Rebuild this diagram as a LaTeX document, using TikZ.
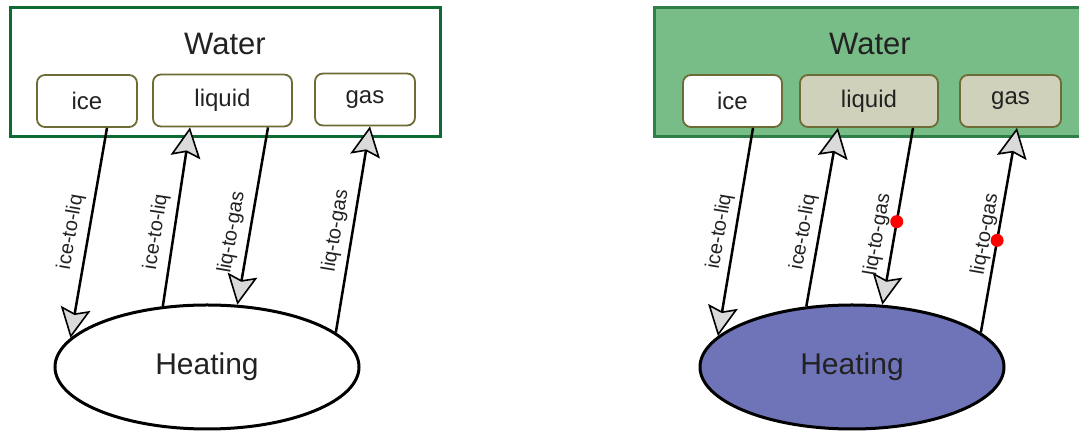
\documentclass[tikz,border=0pt]{standalone}
\usepackage{fontspec}
\setmainfont{Liberation Sans}
\usetikzlibrary{arrows.meta,shapes.geometric}
\definecolor{dkgreen}{HTML}{0E6B33}
\definecolor{rgreen}{HTML}{2F7F48}
\definecolor{gfill}{HTML}{78BC87}
\definecolor{boxline}{HTML}{6E6C36}
\definecolor{boxfill}{HTML}{CFD1BA}
\definecolor{heatfill}{HTML}{6F74B9}
\definecolor{headgray}{HTML}{DADADA}
\definecolor{txt}{HTML}{222222}
\begin{document}
\begin{tikzpicture}[x=1pt,y=1pt,
  outer/.style={rectangle, line width=3pt, inner sep=0},
  box/.style={rectangle, draw=boxline, line width=1.8pt, rounded corners=8pt, minimum height=52pt, inner sep=0, font=\fontsize{24}{26}\selectfont, text=txt},
  title/.style={inner sep=0, font=\fontsize{31}{34}\selectfont, text=txt},
  heat/.style={ellipse, draw=black, line width=3pt, minimum width=304pt, minimum height=124pt, inner sep=0, font=\fontsize{30}{33}\selectfont, text=txt},
  conn/.style={line width=2.5pt, -{Stealth[length=30pt,width=30pt,inset=5pt,fill=headgray,line width=1.6pt]}},
  lab/.style={sloped, inner sep=0, font=\fontsize{20}{22}\selectfont, text=txt},
  rdot/.style={circle, fill=red, inner sep=0, minimum size=13pt}]
\useasboundingbox (0,0) rectangle (1079,438);

% ---------- left diagram ----------
\node[outer, draw=dkgreen, fill=white, minimum width=430pt, minimum height=129pt] (wL) at (225,365.5) {};
\node[title] (wLt) at (225,394) {Water};
\node[box, fill=white, minimum width=100pt] (iceL) at (87,337) {ice};
\node[box, fill=white, minimum width=139pt] (liqL) at (222.5,337.5) {liquid};
\node[box, fill=white, minimum width=100pt] (gasL) at (365,338.5) {gas};
\node[heat, fill=white] (heatL) at (207,71) {Heating};

\draw[conn] ([xshift=20pt]iceL.south) -- node[lab, above=7pt, pos=.51] (l1) {ice-to-liq} (heatL.168);
\draw[conn] (heatL.126) -- node[lab, above=7pt, pos=.40] (l2) {ice-to-liq} ([xshift=-32.5pt]liqL.south);
\draw[conn] ([xshift=45.5pt]liqL.south) -- node[lab, above=7pt, pos=.61] (l3) {liq-to-gas} (heatL.64);
\draw[conn] (heatL.15.5) -- node[lab, above=6pt, pos=.48] (l4) {liq-to-gas} ([xshift=5pt]gasL.south);

% ---------- right diagram ----------
\node[outer, draw=rgreen, fill=gfill, minimum width=431pt, minimum height=129pt] (wR) at (869.5,365.5) {};
\node[title] (wRt) at (870,394) {Water};
\node[box, fill=white, minimum width=99pt] (iceR) at (732.5,337) {ice};
\node[box, fill=boxfill, minimum width=138pt] (liqR) at (869,337) {liquid};
\node[box, fill=boxfill, minimum width=101pt] (gasR) at (1010.5,337) {gas};
\node[heat, fill=heatfill] (heatR) at (852,71) {Heating};

\draw[conn] ([xshift=20.5pt]iceR.south) -- node[lab, above=5pt, pos=.51] (r1) {ice-to-liq} (heatR.167);
\draw[conn] (heatR.127) -- node[lab, above=5pt, pos=.40] (r2) {ice-to-liq} ([xshift=-31pt]liqR.south);
\draw[conn] ([xshift=44pt]liqR.south) -- node[lab, above=6pt, pos=.62] (r3) {liq-to-gas} node[rdot, pos=.53] (d1) {} (heatR.64);
\draw[conn] (heatR.15.5) -- node[lab, above=2pt, pos=.47] (r4) {liq-to-gas} node[rdot, pos=.45] (d2) {} ([xshift=6.5pt]gasR.south);
\end{tikzpicture}
\end{document}
